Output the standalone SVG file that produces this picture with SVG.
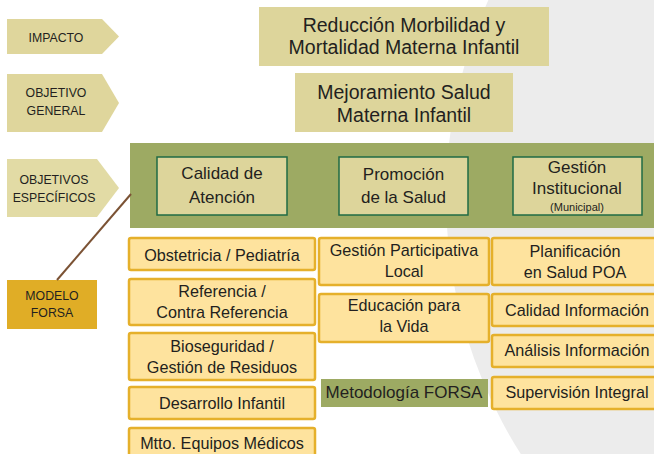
<svg xmlns="http://www.w3.org/2000/svg" width="654" height="454" viewBox="0 0 654 454">
<style>
text{font-family:"Liberation Sans",Arial,sans-serif;fill:#231f20;text-anchor:middle}
.lab{font-size:12.3px}
.top{fill:#ddd59b}
.t1{font-size:19.5px}
.band{fill:#9daa63}
.obj{fill:#ddd59b;stroke:#1f6b45;stroke-width:1.5}
.t2{font-size:17px}
.ob{fill:#fee39e;stroke:#e5b02b;stroke-width:2.5}
.t3{font-size:16.2px}
</style>
<rect width="654" height="454" fill="#ffffff"/>
<circle cx="925" cy="197" r="479" fill="#ececec"/>

<g id="lbl-impacto">
<polygon points="7,19 102,19 119,36.5 102,54 7,54" fill="#dfd69c"/>
<text class="lab" x="56" y="42">IMPACTO</text>
</g>
<g id="lbl-general">
<polygon points="7,74 102,74 119,103 102,132 7,132" fill="#dfd69c"/>
<text class="lab" x="56" y="97">OBJETIVO</text>
<text class="lab" x="56" y="115">GENERAL</text>
</g>
<g id="lbl-especificos">
<polygon points="7,159 97,159 119,188 97,217 7,217" fill="#e2dba5"/>
<text class="lab" x="54" y="184">OBJETIVOS</text>
<text class="lab" x="54" y="202">ESPECÍFICOS</text>
</g>
<g id="modelo-forsa">
<rect x="7" y="280" width="90" height="49" fill="#e0ad26"/>
<text class="lab" x="52" y="300">MODELO</text>
<text class="lab" x="52" y="317">FORSA</text>
</g>

<g id="impacto">
<rect class="top" x="259" y="7" width="290" height="59"/>
<text class="t1" x="404" y="32">Reducción Morbilidad y</text>
<text class="t1" x="404" y="54">Mortalidad Materna Infantil</text>
</g>
<g id="objetivo-general">
<rect class="top" x="295" y="73" width="218" height="59"/>
<text class="t1" x="404" y="99">Mejoramiento Salud</text>
<text class="t1" x="404" y="122">Materna Infantil</text>
</g>

<g id="banda">
<rect class="band" x="130" y="143" width="530" height="85"/>
</g>
<g id="calidad">
<rect class="obj" x="157" y="157" width="130" height="58"/>
<text class="t2" x="222" y="179">Calidad de</text>
<text class="t2" x="222" y="203">Atención</text>
</g>
<g id="promocion">
<rect class="obj" x="339" y="157" width="129" height="58"/>
<text class="t2" x="403.5" y="180">Promoción</text>
<text class="t2" x="403.5" y="203">de la Salud</text>
</g>
<g id="gestion">
<rect class="obj" x="513" y="157" width="129" height="58"/>
<text class="t2" x="577" y="173">Gestión</text>
<text class="t2" x="577" y="194">Institucional</text>
<text x="577" y="211" font-size="11px">(Municipal)</text>
</g>

<g id="obstetricia">
<rect class="ob" x="129" y="238" width="186" height="32" rx="2"/>
<text class="t3" x="222" y="261">Obstetricia / Pediatría</text>
</g>
<g id="referencia">
<rect class="ob" x="129" y="279" width="186" height="46" rx="2"/>
<text class="t3" x="222" y="297">Referencia /</text>
<text class="t3" x="222" y="318">Contra Referencia</text>
</g>
<g id="bioseguridad">
<rect class="ob" x="129" y="333" width="186" height="47" rx="2"/>
<text class="t3" x="222" y="352">Bioseguridad /</text>
<text class="t3" x="222" y="373">Gestión de Residuos</text>
</g>
<g id="desarrollo">
<rect class="ob" x="129" y="387" width="186" height="32" rx="2"/>
<text class="t3" x="222" y="409">Desarrollo Infantil</text>
</g>
<g id="mtto">
<rect class="ob" x="129" y="428" width="186" height="34" rx="2"/>
<text class="t3" x="222" y="449">Mtto. Equipos Médicos</text>
</g>

<g id="gestion-participativa">
<rect class="ob" x="319" y="238" width="170" height="47" rx="2"/>
<text class="t3" x="404" y="256">Gestión Participativa</text>
<text class="t3" x="404" y="277">Local</text>
</g>
<g id="educacion">
<rect class="ob" x="319" y="294" width="170" height="48" rx="2"/>
<text class="t3" x="404" y="311">Educación para</text>
<text class="t3" x="404" y="332">la Vida</text>
</g>
<g id="metodologia">
<rect class="band" x="321" y="379" width="167" height="28"/>
<text class="t2" x="404" y="398">Metodología FORSA</text>
</g>

<g id="planificacion">
<rect class="ob" x="492" y="238" width="170" height="47" rx="2"/>
<text class="t3" x="575" y="257">Planificación</text>
<text class="t3" x="575" y="278">en Salud POA</text>
</g>
<g id="calidad-info">
<rect class="ob" x="492" y="294" width="170" height="32" rx="2"/>
<text class="t3" x="577" y="316">Calidad Información</text>
</g>
<g id="analisis">
<rect class="ob" x="492" y="335" width="170" height="32" rx="2"/>
<text class="t3" x="577" y="356">Análisis Información</text>
</g>
<g id="supervision">
<rect class="ob" x="492" y="377" width="170" height="32" rx="2"/>
<text class="t3" x="577" y="398">Supervisión Integral</text>
</g>

<g id="connectors">
<line x1="57" y1="280" x2="131" y2="194" stroke="#7b5234" stroke-width="2"/>
</g>
</svg>
